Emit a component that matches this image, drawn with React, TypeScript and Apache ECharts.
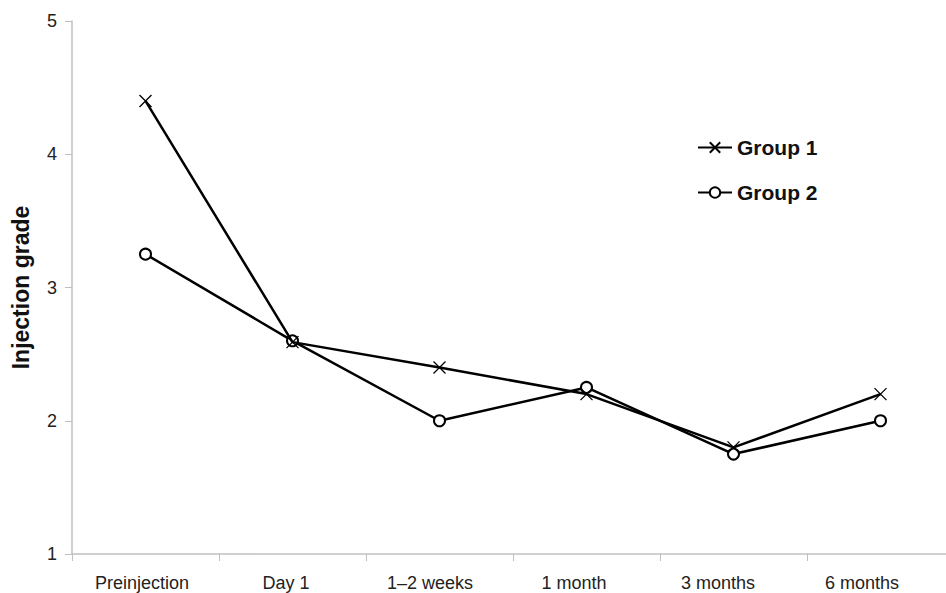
import React, { useEffect, useRef } from "react";
import * as echarts from "echarts";

const categories = ["Preinjection", "Day 1", "1\u20132 weeks", "1 month", "3 months", "6 months"];
const group1 = [4.4, 2.59, 2.4, 2.2, 1.8, 2.2];
const group2 = [3.25, 2.6, 2.0, 2.25, 1.75, 2.0];
const seriesNames = ["Group 1", "Group 2"];
const yTicks = { min: 1, max: 5, interval: 1 };

const FONT = "'Liberation Sans', Arial, sans-serif";
const CROSS = "path://M0,0L10,10M10,0L0,10";
const AXIS_GRAY = "#c0c0c0";

export default function App() {
  const ref = useRef<HTMLDivElement>(null);
  useEffect(() => {
    if (!ref.current) return;
    const chart = echarts.init(ref.current, undefined, { renderer: "svg" });
    chart.setOption({
      animation: false,
      backgroundColor: "#fff",
      grid: [
        { left: 72, right: -8, top: 21, bottom: 39, containLabel: false, outerBoundsMode: "none" },
        { left: 70, right: 12, top: 21, bottom: 39, containLabel: false, outerBoundsMode: "none" },
      ],
      legend: {
        orient: "vertical",
        left: 692,
        top: 132,
        itemGap: 24,
        itemWidth: 34,
        itemHeight: 13,
        textStyle: { fontFamily: FONT, fontSize: 21, fontWeight: "bold", color: "#111" },
        data: seriesNames,
      },
      xAxis: [
        {
          type: "category",
          gridIndex: 0,
          data: categories,
          boundaryGap: true,
          axisLine: { lineStyle: { color: AXIS_GRAY, width: 1.5 } },
          axisTick: { show: true, length: 7, lineStyle: { color: AXIS_GRAY } },
          axisLabel: { show: false },
        },
        {
          type: "category",
          gridIndex: 1,
          data: categories,
          boundaryGap: true,
          axisLine: { show: false },
          axisTick: { show: false },
          axisLabel: { fontFamily: FONT, fontSize: 18, color: "#222", margin: 20 },
        },
      ],
      yAxis: [
        {
          type: "value",
          gridIndex: 0,
          min: yTicks.min,
          max: yTicks.max,
          interval: yTicks.interval,
          name: "Injection grade",
          nameLocation: "middle",
          nameGap: 40,
          nameTextStyle: { fontFamily: FONT, fontSize: 23, fontWeight: "bold", color: "#111" },
          axisLine: { show: true, lineStyle: { color: AXIS_GRAY, width: 1.5 } },
          axisTick: { show: true, length: 7, lineStyle: { color: AXIS_GRAY } },
          splitLine: { show: false },
          axisLabel: { fontFamily: FONT, fontSize: 18, color: "#222", margin: 15 },
        },
        {
          type: "value",
          gridIndex: 1,
          min: yTicks.min,
          max: yTicks.max,
          interval: yTicks.interval,
          show: false,
        },
      ],
      series: [
        {
          name: seriesNames[0],
          type: "line",
          xAxisIndex: 0,
          yAxisIndex: 0,
          data: group1,
          symbol: CROSS,
          symbolSize: 12,
          itemStyle: { color: "#000", borderColor: "#000", borderWidth: 1.3 },
          lineStyle: { color: "#000", width: 2.5 },
          z: 3,
        },
        {
          name: seriesNames[1],
          type: "line",
          xAxisIndex: 0,
          yAxisIndex: 0,
          data: group2,
          symbol: "emptyCircle",
          symbolSize: 11,
          itemStyle: { color: "#000", borderColor: "#000", borderWidth: 1.3 },
          lineStyle: { color: "#000", width: 2.5 },
          z: 2,
        },
      ],
    });
    return () => chart.dispose();
  }, []);
  return <div ref={ref} style={{ width: 946, height: 593, position: "absolute", left: 0, top: 0 }} />;
}
